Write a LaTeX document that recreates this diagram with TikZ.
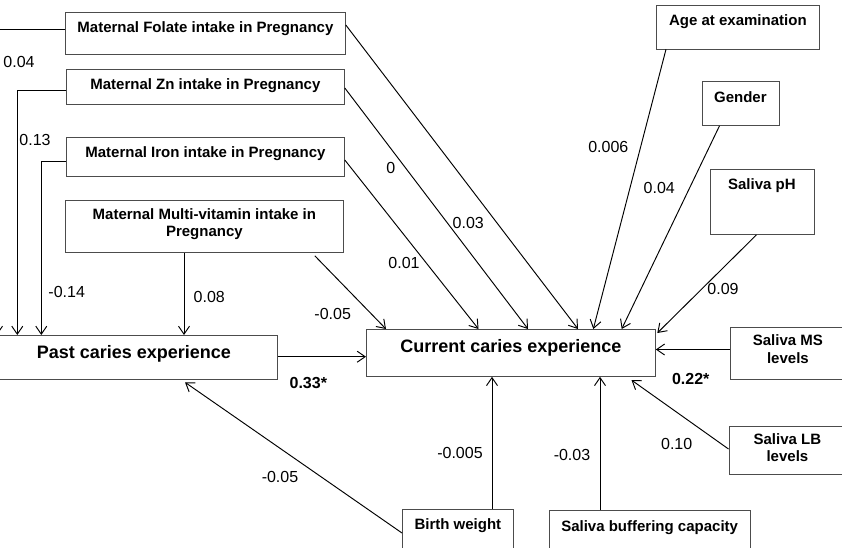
\documentclass[tikz,border=0pt]{standalone}
\usepackage{fontspec}
\setmainfont{Liberation Sans}
\usetikzlibrary{arrows.meta}
\newcommand{\bxt}[4]{\parbox[t][#2pt][t]{#1pt}{\centering\rule{0pt}{#3pt}#4}}
\begin{document}
\begin{tikzpicture}[x=1pt,y=-1pt,
  bx/.style={draw=black!70,line width=0.8pt,inner sep=0pt,anchor=north west,font=\fontsize{15}{17.5}\selectfont\bfseries},
  bigbx/.style={bx,font=\fontsize{18}{20}\selectfont\bfseries},
  conn/.style={line width=0.95pt,-{Straight Barb[length=8pt,width=11pt]}},
  lab/.style={font=\fontsize{16}{18}\selectfont,inner sep=0pt},
  blab/.style={font=\fontsize{16}{18}\selectfont\bfseries,inner sep=0pt}]
\useasboundingbox (0,0) rectangle (842,547);
% boxes
\node[bx] (fol) at (65,12) {\bxt{280}{42}{20}{Maternal Folate intake in Pregnancy}};
\node[bx] (zn) at (66,69) {\bxt{278}{35}{20}{Maternal Zn intake in Pregnancy}};
\node[bx] (iron) at (66,137) {\bxt{278}{39}{20}{Maternal Iron intake in Pregnancy}};
\node[bx] (multi) at (65,200) {\bxt{278}{52}{19}{Maternal Multi-vitamin intake in\\Pregnancy}};
\node[bigbx] (past) at (-10,335) {\bxt{287}{44}{23}{Past caries experience}};
\node[bigbx] (cur) at (366,329) {\bxt{289}{47}{23}{Current caries experience}};
\node[bx] (age) at (656,4.5) {\bxt{163}{44}{21}{Age at examination}};
\node[bx] (gen) at (701.5,81) {\bxt{77}{44}{21}{Gender}};
\node[bx] (ph) at (709.5,168.5) {\bxt{104}{65.5}{21}{Saliva pH}};
\node[bx] (ms) at (730,326.5) {\bxt{115}{52.5}{19}{Saliva MS\\levels}};
\node[bx] (lb) at (728.5,425.5) {\bxt{117}{48}{18.5}{Saliva LB\\levels}};
\node[bx] (bw) at (402,509) {\bxt{111}{45}{20}{Birth weight}};
\node[bx] (buf) at (548.5,510) {\bxt{201.5}{45}{21}{Saliva buffering capacity}};
% connectors to past
\draw[conn] ([yshift=-17pt]fol.north west) -| ([xshift=7pt]past.north west);
\draw[conn] ([yshift=-21pt]zn.north west) -| ([xshift=27.3pt]past.north west);
\draw[conn] ([yshift=-24.5pt]iron.north west) -| ([xshift=51.3pt]past.north west);
\draw[conn] ([xshift=119pt]multi.south west) -- ([xshift=194pt]past.north west);
\draw[conn] ([yshift=-24pt]bw.north west) -- ([xshift=195pt,yshift=-2.5pt]past.south west);
% connectors to current
\draw[conn] ([yshift=-13pt]fol.north east) -- ([xshift=212pt]cur.north west);
\draw[conn] ([yshift=-19pt]zn.north east) -- ([xshift=162pt]cur.north west);
\draw[conn] ([yshift=-23pt]iron.north east) -- ([xshift=112.5pt]cur.north west);
\draw[conn] ([xshift=-29pt,yshift=-3pt]multi.south east) -- ([xshift=20pt]cur.north west);
\draw[conn] ([yshift=-21.7pt]past.north east) -- ([yshift=-27.7pt]cur.north west);
\draw[conn] ([xshift=90pt]bw.north west) -- ([xshift=126pt]cur.south west);
\draw[conn] ([xshift=51.5pt]buf.north west) -- ([xshift=234pt]cur.south west);
\draw[conn] ([yshift=-23.5pt]lb.north west) -- ([xshift=-24.3pt,yshift=-3.3pt]cur.south east);
\draw[conn] ([yshift=-23pt]ms.north west) -- ([yshift=-20.5pt]cur.north east);
\draw[conn] ([xshift=47pt]ph.south west) -- ([xshift=1.5pt,yshift=-4pt]cur.north east);
\draw[conn] ([xshift=18pt]gen.south west) -- ([xshift=255.7pt]cur.north west);
\draw[conn] ([xshift=10pt]age.south west) -- ([xshift=227.3pt]cur.north west);
% labels
\node[lab] (l1) at (19,61.7) {0.04};
\node[lab] (l2) at (35,140) {0.13};
\node[lab] (l3) at (66.7,291.7) {-0.14};
\node[lab] (l4) at (209.3,296.7) {0.08};
\node[lab] (l5) at (390.7,167.7) {0};
\node[lab] (l6) at (468.3,222.7) {0.03};
\node[lab] (l7) at (404,262.7) {0.01};
\node[lab] (l8) at (332.7,314) {-0.05};
\node[blab] (l9) at (308.3,383.3) {0.33*};
\node[lab] (l10) at (280,476.7) {-0.05};
\node[lab] (l11) at (460,452.7) {-0.005};
\node[lab] (l12) at (572,455) {-0.03};
\node[lab] (l13) at (676.7,444.3) {0.10};
\node[blab] (l14) at (690.7,378.7) {0.22*};
\node[lab] (l15) at (723,289) {0.09};
\node[lab] (l16) at (659.3,188.3) {0.04};
\node[lab] (l17) at (608.3,146.7) {0.006};
\end{tikzpicture}
\end{document}
